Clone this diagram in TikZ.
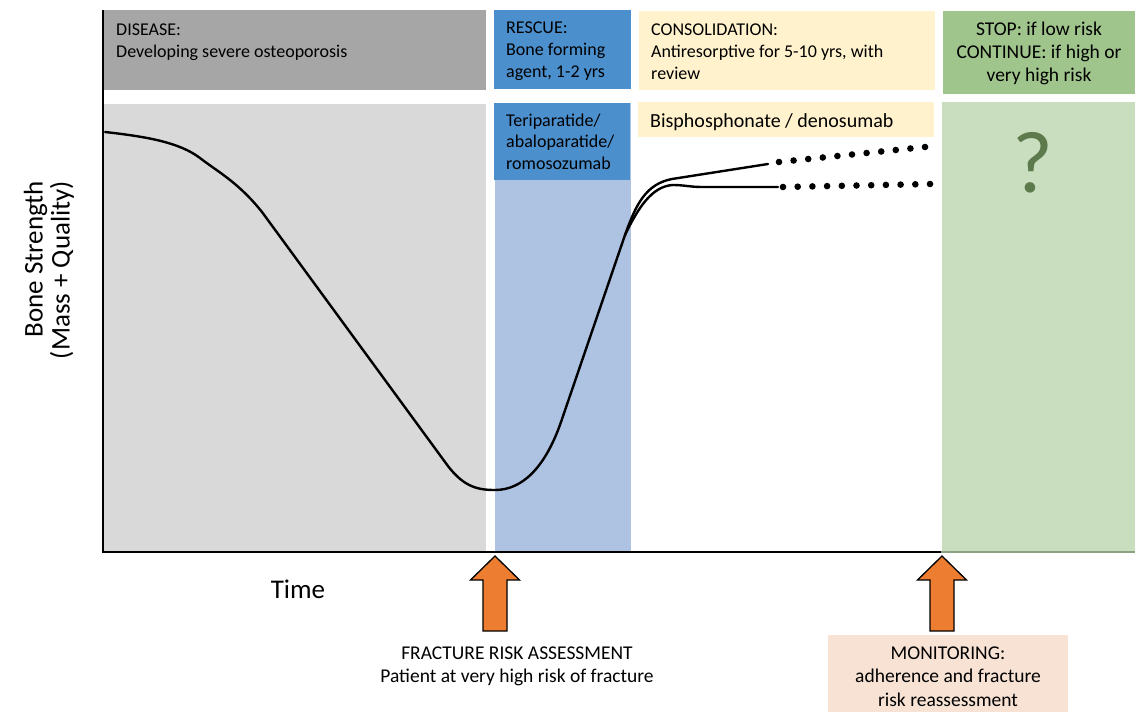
\documentclass[tikz,border=0pt]{standalone}
\usepackage{fontspec}
\setmainfont{Carlito}
\usetikzlibrary{calc}

\definecolor{diseasedark}{RGB}{166,166,166}
\definecolor{diseaselight}{RGB}{217,217,217}
\definecolor{rescueblue}{RGB}{76,143,205}
\definecolor{rescuelight}{RGB}{174,194,226}
\definecolor{consolyellow}{RGB}{255,242,204}
\definecolor{stopgreen}{RGB}{160,197,140}
\definecolor{stoplight}{RGB}{201,222,190}
\definecolor{questgreen}{RGB}{92,122,76}
\definecolor{arroworange}{RGB}{237,125,49}
\definecolor{monitorpink}{RGB}{248,226,212}
\definecolor{greenedge}{RGB}{140,160,130}

\tikzset{
  phasetext/.style={anchor=north west, inner sep=0pt, align=left, font=\fontsize{18}{22}\selectfont},
  drugtext/.style={anchor=north west, inner sep=0pt, align=left, font=\fontsize{18}{21.5}\selectfont},
  notetext/.style={anchor=north, inner sep=0pt, align=center, font=\fontsize{19.5}{23.5}\selectfont},
  blockarrow/.style={fill=arroworange, draw=black, line width=1.3pt, line join=miter},
  strengthcurve/.style={line width=2.4pt, line cap=round, line join=round}
}

\begin{document}
\begin{tikzpicture}[x=1pt, y=-1pt]
\useasboundingbox (0,0) rectangle (1135,712);

    % Draw the phase backgrounds
    \fill[diseasedark] (104,10) rectangle (486,90);
    \fill[diseaselight] (104,104) rectangle (486,551);
    \fill[rescuelight] (495,103) rectangle (631,551);
    \fill[rescueblue] (494,10) rectangle (631,89);
    \fill[rescueblue] (494,103) rectangle (630,180);
    \fill[consolyellow] (639,11) rectangle (935,90);
    \fill[consolyellow] (638,102) rectangle (934,137);
    \fill[stopgreen] (943,11) rectangle (1135,94);
    \fill[stoplight] (942,102) rectangle (1135,551);
    \fill[monitorpink] (828,635) rectangle (1068,712);

    % Draw the axes
    \draw[line width=1.8pt] (103,10) -- (103,552) -- (941,552);
    \draw[greenedge, line width=1.5pt] (941,552) -- (1135,552);

    % Bone strength over time
    \coordinate (split) at (625,235);
    \draw[strengthcurve] (105,132) .. controls (150,137) and (180,143) .. (200,158)
      .. controls (218,172) and (238,182) .. (262,212)
      -- (445,462) .. controls (462,486) and (476,490) .. (495,490)
      .. controls (522,490) and (545,468) .. (561,422)
      -- (split);
    \draw[strengthcurve] (split) .. controls (636,204) and (646,184) .. (672,179)
      -- (768,164);
    \draw[strengthcurve] (split) .. controls (638,208) and (652,186) .. (673,185)
      .. controls (684,185) and (690,187) .. (702,187) -- (778,187);

    % Dotted continuation
    \foreach \i in {0,...,10} {
      \fill (779+14.6*\i,162-1.5*\i) circle (3.3pt);
      \fill (783+14.7*\i,187-0.3*\i) circle (3.3pt);
    }

    % Phase labels
    \node[phasetext] (disease) at (116,24) {DISEASE:\\Developing severe osteoporosis};
    \node[phasetext] (rescue) at (506,22) {RESCUE:\\Bone forming\\agent, 1-2 yrs};
    \node[phasetext] (consolidation) at (651,23.3) {CONSOLIDATION:\\Antiresorptive for 5-10 yrs, with\\review};
    \node[notetext, font=\fontsize{19.5}{23}\selectfont] (stoprule) at (1039,22) {STOP: if low risk\\CONTINUE: if high or\\very high risk};
    \node[drugtext] (rescuedrugs) at (506,113.5) {Teriparatide/\\abaloparatide/\\romosozumab};
    \node[phasetext, font=\fontsize{20}{24}\selectfont] (consoldrugs) at (650,113) {Bisphosphonate / denosumab};
    \node[questgreen, font=\fontsize{88}{88}\selectfont] (question) at (1033,163) {?};

    % Axis labels
    \node[font=\fontsize{27}{32}\selectfont] (timelabel) at (298,589) {Time};
    \node[rotate=90, align=right, font=\fontsize{27}{27}\selectfont] (strengthlabel) at (49,270) {Bone Strength\\(Mass + Quality)};

    % Assessment arrows
    \coordinate (frtip) at (495,556);
    \coordinate (montip) at (942,556);
    \draw[blockarrow] (frtip) -- ++(24.5,24) -- ++(-12.5,0) -- ++(0,51) -- ++(-24,0) -- ++(0,-51) -- ++(-12.5,0) -- cycle;
    \draw[blockarrow] (montip) -- ++(24.5,24) -- ++(-12.5,0) -- ++(0,51) -- ++(-24,0) -- ++(0,-51) -- ++(-12.5,0) -- cycle;
    \node[notetext] (fracturerisk) at (517,646.5) {FRACTURE RISK ASSESSMENT\\Patient at very high risk of fracture};
    \node[notetext] (monitoring) at (948,646.5) {MONITORING:\\adherence and fracture\\risk reassessment};
\end{tikzpicture}
\end{document}
